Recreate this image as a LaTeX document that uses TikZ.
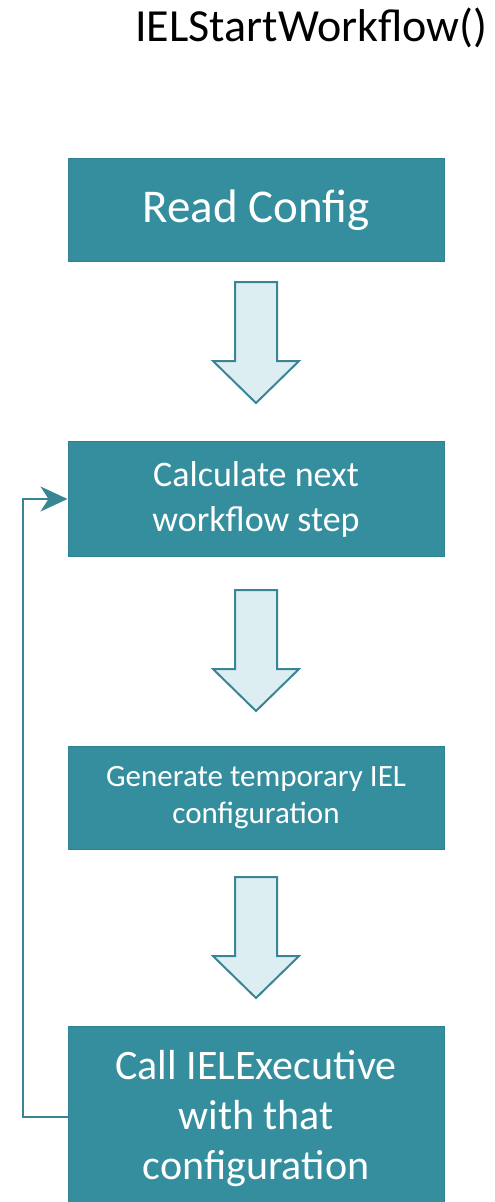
\documentclass[tikz,border=0pt]{standalone}
\usepackage{fontspec}
\setmainfont{Carlito}
\usetikzlibrary{arrows.meta}
\definecolor{boxfill}{HTML}{358E9E}
\definecolor{boxline}{HTML}{2F8090}
\definecolor{arrowfill}{HTML}{DDEEF2}
\definecolor{arrowline}{HTML}{3A8594}
\tikzset{
  stepbox/.style={draw=boxline, line width=1pt, fill=boxfill, text=white,
    minimum width=376pt, inner sep=0pt, align=center, anchor=north},
  blockarrow/.style={draw=arrowline, line width=2pt, fill=arrowfill, line join=miter},
  loopline/.style={draw=arrowline, line width=2pt, -{Stealth[length=27pt,width=25pt,inset=8pt]}}
}
\begin{document}
\begin{tikzpicture}[x=1pt,y=-1pt]
\useasboundingbox (0,0) rectangle (495,1202);
% title
\node[anchor=east, font=\fontsize{46}{52}\selectfont] (title) at (491,28) {IELStartWorkflow()};
% process steps
\node[stepbox, minimum height=103pt, font=\fontsize{47}{52}\selectfont] (read) at (256,158) {Read Config};
\node[stepbox, minimum height=115pt, font=\fontsize{36}{45}\selectfont] (calc) at (256,441) {Calculate next\\workflow step};
\node[stepbox, minimum height=103pt, font=\fontsize{31}{37}\selectfont] (gen) at (256,746) {Generate temporary IEL\\configuration};
\begin{scope}
\clip (0,0) rectangle (495,1202);
\node[stepbox, minimum height=190pt] (call) at (256,1026) {};
\node[text=white, font=\fontsize{42}{50}\selectfont, align=center, anchor=north] (calltext) at (256,1047) {Call IELExecutive\\with that\\configuration};
\end{scope}
% block arrows between steps
\foreach \t/\n in {282/a1, 590/a2, 877/a3}{
  \draw[blockarrow] (235,\t) -- (277,\t) -- (277,\t+79) -- (299,\t+79) -- (256,\t+121)
    -- (213,\t+79) -- (235,\t+79) -- cycle;
}
% loop back to the calculation step
\coordinate (lb) at (23,1117);
\coordinate (lt) at (23,499);
\draw[loopline] (call.west |- lb) -- (lb) -- (lt) -- (calc.west |- lt);
\end{tikzpicture}
\end{document}
